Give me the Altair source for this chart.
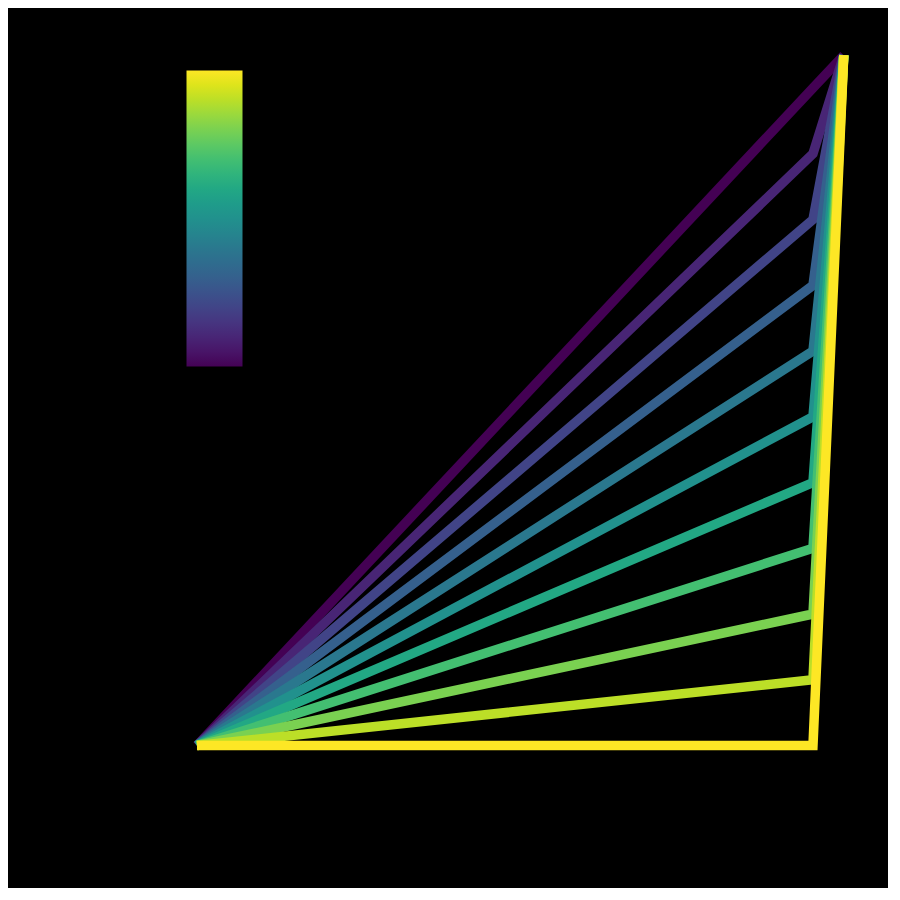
import altair as alt
import pandas as pd

# one polyline per level: origin -> (1, mid height) -> shared apex
levels = [0.0, 0.1, 0.2, 0.3, 0.4, 0.5, 0.6, 0.7, 0.8, 0.9, 1.0]
mid_heights = [1.0, 0.9, 0.8, 0.7, 0.6, 0.5, 0.4, 0.3, 0.2, 0.1, 0.0]
start_point = (0.0, 0.0)
mid_x = 1.0
apex = (1.05, 1.05)
colorbar_ticks = [0.0, 0.25, 0.5, 0.75, 1.0]

rows = []
for level, h in zip(levels, mid_heights):
    pts = [start_point, (mid_x, h), apex]
    for step, (x, y) in enumerate(pts):
        rows.append({"level": level, "step": step, "x": x, "y": y})
frame = pd.DataFrame(rows)

lines = (
    alt.Chart(frame)
    .mark_line(strokeWidth=9.5, strokeCap="butt", strokeJoin="miter", clip=False)
    .encode(
        x=alt.X("x:Q", axis=None, scale=alt.Scale(domain=[-0.3068, 1.1218], nice=False, zero=False)),
        y=alt.Y("y:Q", axis=None, scale=alt.Scale(domain=[-0.2167, 1.1217], nice=False, zero=False)),
        color=alt.Color(
            "level:Q",
            scale=alt.Scale(scheme="viridis", domain=[0, 1]),
            legend=alt.Legend(
                orient="none",
                legendX=178,
                legendY=62,
                direction="vertical",
                gradientLength=297,
                gradientThickness=57,
                gradientStrokeColor="black",
                gradientStrokeWidth=1,
                title=None,
                values=colorbar_ticks,
                labelColor="black",
                labelFontSize=12,
                padding=0,
            ),
        ),
        detail="level:Q",
        order="step:Q",
    )
)

chart = (
    lines.properties(width=880, height=880, padding=0, background="black")
    .configure_view(strokeWidth=0, fill="black")
)

chart.save("out.html", embed_options={"renderer": "svg", "actions": False})
